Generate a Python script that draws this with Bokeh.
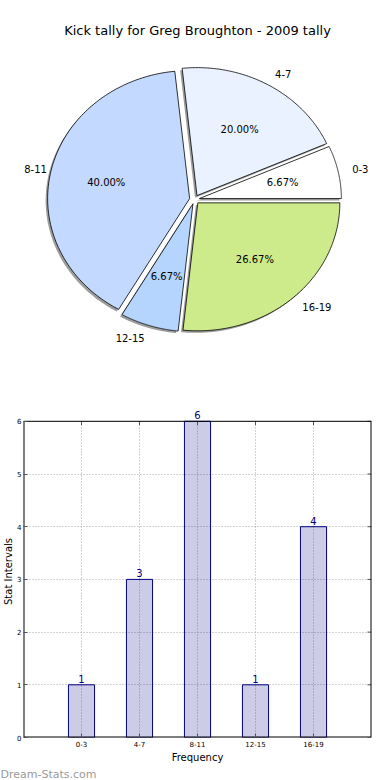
import numpy as np
from bokeh.plotting import figure
from bokeh.models import ColumnDataSource, Range1d, FixedTicker, LabelSet, Title
from bokeh.layouts import column
from bokeh.embed import file_html
from bokeh.resources import INLINE
from bokeh.core.properties import value

# ---------------- data ----------------
categories = ["0-3", "4-7", "8-11", "12-15", "16-19"]
counts = [1, 3, 6, 1, 4]
pie_colors = ["#FFFFFF", "#EBF2FF", "#C3D9FF", "#B5D5FF", "#CDEB8B"]
y_ticks = [0, 1, 2, 3, 4, 5, 6]
title_text = "Kick tally for Greg Broughton - 2009 tally"
x_label = "Frequency"
y_label = "Stat Intervals"
watermark = "Dream-Stats.com"

FONT = "DejaVu Sans"

# ---------------- layout ----------------
W = 390
H1 = 380
H2 = 400
BL = 19            # left border
BR = 19            # right border
FRAME_L = 23       # actual frame left (frames of both figures are aligned)
P_TOP = 48         # pie frame top
RX = 142.0         # px per unit, horizontal
RY = 128.0         # px per unit, vertical (ellipse)
CX = 194.0         # pie centre, page px
CY = 199.0
EXPLODE = 0.035
SH_X, SH_Y = -0.014, -0.016

x_start = -(CX - FRAME_L) / RX
x_end = (W - BR - CX) / RX
y_end = (CY - P_TOP) / RY
y_start = -(H1 - CY) / RY

p1 = figure(width=W, height=H1, x_range=Range1d(x_start, x_end),
            y_range=Range1d(y_start, y_end), output_backend="svg",
            toolbar_location=None, x_axis_location=None, y_axis_location=None,
            min_border_left=FRAME_L, min_border_right=BR, min_border_top=P_TOP,
            min_border_bottom=0, title=title_text)
p1.outline_line_color = None
p1.grid.visible = False
p1.title.align = "center"
p1.title.text_font = FONT
p1.title.text_font_size = "13px"
p1.title.text_font_style = "normal"
p1.title.text_color = "#000000"
p1.title.standoff = 21

total = float(sum(counts))
fracs = np.array(counts, dtype=float) / total
ends = np.cumsum(fracs) * 2 * np.pi
starts = ends - fracs * 2 * np.pi
mids = (starts + ends) / 2
offx = EXPLODE * np.cos(mids)
offy = EXPLODE * np.sin(mids)

xs, ys, sxs, sys_ = [], [], [], []
for s, e, ox, oy in zip(starts, ends, offx, offy):
    t = np.linspace(s, e, 120)
    px = np.concatenate([[ox], ox + np.cos(t), [ox]])
    py = np.concatenate([[oy], oy + np.sin(t), [oy]])
    xs.append(px.tolist())
    ys.append(py.tolist())
    sxs.append((px + SH_X).tolist())
    sys_.append((py + SH_Y).tolist())

p1.patches(sxs, sys_, fill_color="#4d4d4d", fill_alpha=0.55, line_color=None)
p1.patches(xs, ys, fill_color=pie_colors, line_color="#000000", line_width=0.8)

pct_text = ["%.2f%%" % (f * 100) for f in fracs]
p1.text(x=(offx + 0.6 * np.cos(mids)).tolist(), y=(offy + 0.6 * np.sin(mids)).tolist(),
        text=pct_text, text_align="center", text_baseline="middle",
        text_font=value(FONT), text_font_size="10px", text_color="#000000")

lx = offx + 1.1 * np.cos(mids)
ly = offy + 1.1 * np.sin(mids)
left_idx = [i for i in range(len(categories)) if lx[i] > 0]
right_idx = [i for i in range(len(categories)) if lx[i] <= 0]
leftmost = int(np.argmin(lx))
p1.text(x=[lx[i] for i in left_idx], y=[ly[i] for i in left_idx],
        text=[categories[i] for i in left_idx], text_align="left", text_baseline="middle",
        text_font=value(FONT), text_font_size="10px", text_color="#000000")
# the leftmost label is nudged right so the frame edge does not cut it
p1.text(x=[lx[i] for i in right_idx], y=[ly[i] for i in right_idx],
        text=[categories[i] for i in right_idx], text_align="right", text_baseline="middle",
        x_offset=[10 if i == leftmost else 0 for i in right_idx],
        text_font=value(FONT), text_font_size="10px", text_color="#000000")

# ---------------- bar chart ----------------
xpos = list(range(len(categories)))
y_top = max(y_ticks)
x_lo, x_hi = -1, len(categories)
p2 = figure(width=W, height=H2, x_range=Range1d(x_lo, x_hi),
            y_range=Range1d(0, y_top + 0.3), output_backend="svg",
            toolbar_location=None, min_border_top=25, min_border_right=BR,
            min_border_left=BL, min_border_bottom=40)
p2.outline_line_color = None
p2.xgrid.visible = False
p2.ygrid.ticker = FixedTicker(ticks=y_ticks)
p2.ygrid.grid_line_color = "#a8a8a8"
p2.ygrid.grid_line_dash = "1 2"

# vertical grid lines, only inside the 0..6 box
p2.segment(x0=xpos, y0=[0] * len(xpos), x1=xpos, y1=[y_top] * len(xpos),
           line_color="#a8a8a8", line_dash="1 2", line_width=1)

src = ColumnDataSource(dict(x=xpos, top=counts, label=[str(c) for c in counts]))
p2.vbar(x="x", top="top", width=0.45, source=src, fill_color="#000080", fill_alpha=0.2,
        line_color="#000080", line_width=1)
p2.add_layout(LabelSet(x="x", y="top", text="label", source=src, text_align="center",
                       text_baseline="bottom", y_offset=2, text_color="#000080",
                       text_font=value(FONT), text_font_size="10px"))

# inward tick marks on the top and right edges of the box
p2.segment(x0=xpos, y0=[y_top] * len(xpos), x1=xpos, y1=[y_top - 0.075] * len(xpos),
           line_color="#555555", line_width=1)
p2.segment(x0=[x_hi] * len(y_ticks), y0=y_ticks, x1=[x_hi - 0.07] * len(y_ticks), y1=y_ticks,
           line_color="#555555", line_width=1)

# axes box 0..6 (sides lie on the frame edge, so they are drawn wider to survive clipping)
p2.line(x=[x_lo, x_lo, x_hi, x_hi], y=[y_top, 0, 0, y_top], line_color="#000000", line_width=2)
p2.line(x=[x_lo, x_hi], y=[y_top, y_top], line_color="#000000", line_width=1)

p2.xaxis.ticker = FixedTicker(ticks=xpos)
p2.xaxis.major_label_overrides = {i: c for i, c in zip(xpos, categories)}
p2.yaxis.ticker = FixedTicker(ticks=y_ticks)
for ax in (p2.xaxis[0], p2.yaxis[0]):
    ax.axis_line_color = None
    ax.major_tick_in = 4
    ax.major_tick_out = 0
    ax.major_tick_line_color = "#555555"
    ax.minor_tick_line_color = None
    ax.major_label_text_font = FONT
    ax.major_label_text_font_size = "7px"
    ax.major_label_text_color = "#000000"
    ax.axis_label_text_font = FONT
    ax.axis_label_text_font_size = "10px"
    ax.axis_label_text_font_style = "normal"
    ax.axis_label_text_color = "#000000"
p2.yaxis.major_label_standoff = 2
p2.yaxis.axis_label_standoff = 0
p2.xaxis.major_label_standoff = 3
p2.xaxis.axis_label_standoff = 2
p2.xaxis.axis_label = x_label
p2.yaxis.axis_label = y_label

wm = Title(text=watermark, align="left", offset=-FRAME_L, standoff=0, text_color="#9a9a9a",
           text_font=FONT, text_font_size="11px", text_font_style="normal")
p2.add_layout(wm, "below")

layout = column(p1, p2, spacing=0)
open("out.html", "w").write(file_html(layout, INLINE))
